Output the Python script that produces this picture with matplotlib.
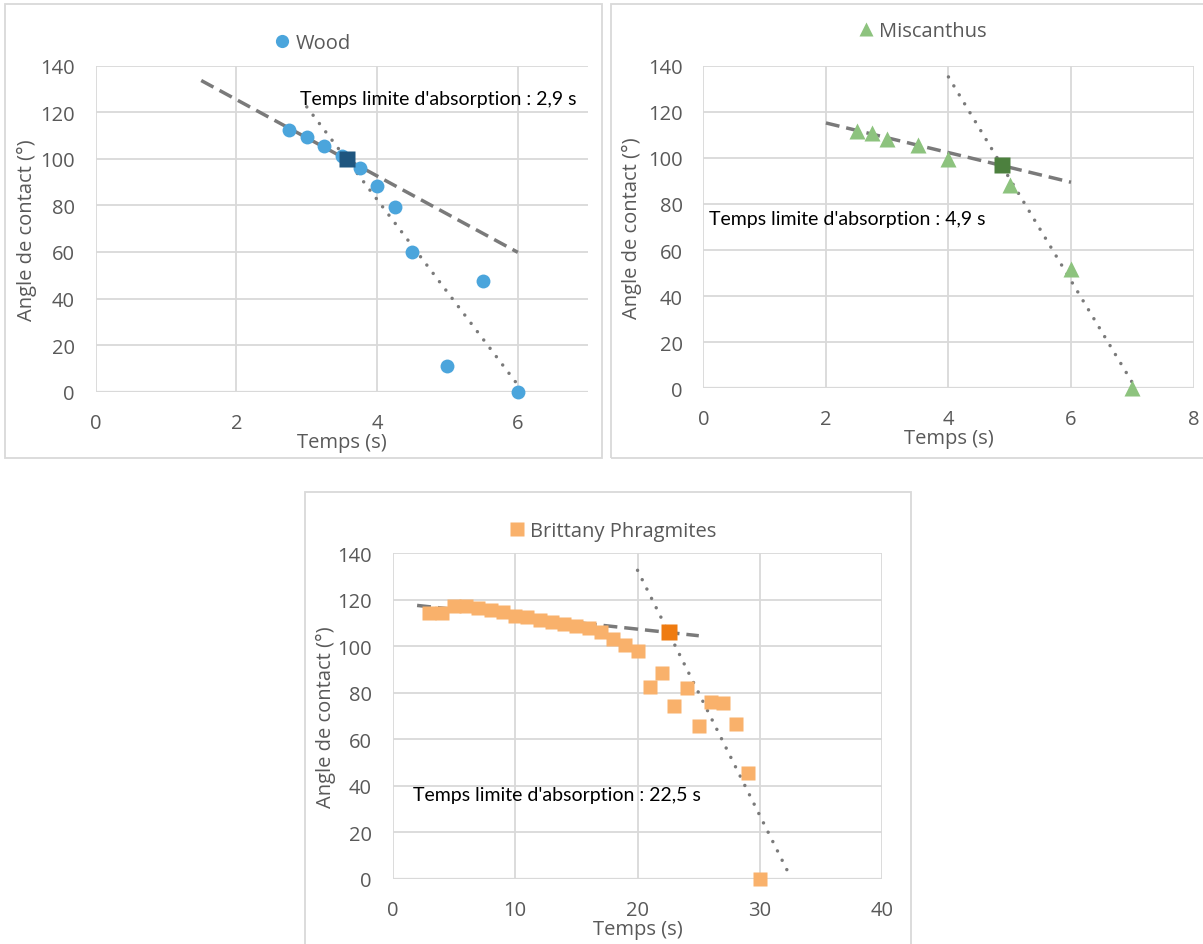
import numpy as np
import matplotlib.pyplot as plt
from matplotlib.lines import Line2D
from matplotlib.patches import Rectangle

# --- data ---
wood_t = [2.75, 3.0, 3.25, 3.5, 3.75, 4.0, 4.25, 4.5, 5.0, 5.5, 6.0]
wood_angle = [112.4, 109.5, 105.5, 101.3, 96.0, 88.3, 79.3, 59.8, 11.2, 47.5, 0.0]

misc_t = [2.5, 2.75, 3.0, 3.5, 4.0, 5.0, 6.0, 7.0]
misc_angle = [111.8, 111.0, 108.0, 105.7, 99.5, 88.4, 51.8, 0.0]

phrag_t = list(range(3, 31))
phrag_angle = [114.2, 114.4, 117.2, 117.2, 116.5, 115.8, 114.6, 113.2, 112.5,
               111.5, 110.3, 109.6, 108.9, 107.7, 106.0, 103.2, 100.6, 98.1,
               82.4, 88.4, 74.5, 81.9, 65.9, 75.9, 75.6, 66.6, 45.6, 0.0]

series_names = ["Wood", "Miscanthus", "Brittany Phragmites"]
notes = ["Temps limite d'absorption : 2,9 s",
         "Temps limite d'absorption : 4,9 s",
         "Temps limite d'absorption : 22,5 s"]

# points used for the two linear trendlines (first n / last n)
fit_first = [5, 4, 12]
fit_last = [6, 3, 7]
dash_span = [(1.5, 6.0), (2.0, 6.0), (2.0, 25.0)]
dot_span = [(3.0, 6.0), (4.0, 7.0), (20.0, 32.4)]

W, H = 1203, 945
GRAY = "#595959"
GRID = "#D9D9D9"
TREND = "#7A7A7A"

fig = plt.figure(figsize=(W / 100, H / 100), dpi=100)


def px(x0, y0, x1, y1):
    # pixel box (top-left origin) -> figure fraction rect
    return [x0 / W, 1 - y1 / H, (x1 - x0) / W, (y1 - y0) / H]


def panel(i, box, frame, t, a, xmax, xstep, color, marker, ms, dark,
          note_xy, leg_xy, ylab_x):
    fig.add_artist(Rectangle((frame[0] / W, 1 - frame[3] / H),
                             (frame[2] - frame[0]) / W, (frame[3] - frame[1]) / H,
                             transform=fig.transFigure, fill=False,
                             edgecolor=GRID, lw=1.3, zorder=0))
    ax = fig.add_axes(px(*box))
    t = np.array(t, dtype=float)
    a = np.array(a, dtype=float)

    # trendlines (linear fits, like the spreadsheet ones)
    p1 = np.polyfit(t[:fit_first[i]], a[:fit_first[i]], 1)
    p2 = np.polyfit(t[-fit_last[i]:], a[-fit_last[i]:], 1)
    xd = np.array(dash_span[i])
    xo = np.array(dot_span[i])
    ax.plot(xd, np.polyval(p1, xd), color=TREND, lw=2.5,
            linestyle=(0, (4, 2)), zorder=2)
    ax.plot(xo, np.polyval(p2, xo), color=TREND, lw=2.5,
            linestyle=(0, (0.01, 3.0)), dash_capstyle="round", zorder=2)

    ax.plot(t, a, linestyle="none", marker=marker, ms=ms, color=color,
            mec="none", zorder=3, clip_on=False)

    # crossing of the two trendlines
    xc = (p2[1] - p1[1]) / (p1[0] - p2[0])
    ax.plot([xc], [np.polyval(p1, xc)], linestyle="none", marker="s", ms=12,
            color=dark, mec="none", zorder=4)

    ax.text(note_xy[0], note_xy[1], notes[i], fontsize=14, color="black",
            family="Lato", va="center", ha="left", zorder=5)

    ax.set_xlim(0, xmax)
    ax.set_ylim(0, 140)
    ax.set_xticks(np.arange(0, xmax + 0.01, xstep))
    ax.set_yticks(np.arange(0, 141, 20))
    ax.grid(True, color=GRID, lw=1.3)
    ax.set_axisbelow(True)
    for s in ax.spines.values():
        s.set_visible(False)
    ax.axhline(0, color=GRID, lw=1.6, zorder=1)
    ax.tick_params(length=0, labelsize=14.5, labelcolor=GRAY)
    ax.tick_params(axis="x", pad=15)
    ax.tick_params(axis="y", pad=15)
    for lab in ax.get_xticklabels() + ax.get_yticklabels():
        lab.set_family("Open Sans")

    ax.set_xlabel("Temps (s)", fontsize=14.5, color=GRAY, family="Open Sans")
    ax.xaxis.set_label_coords(0.5, -0.155)
    ax.xaxis.label.set_va("center")
    ax.set_ylabel("Angle de contact (°)", fontsize=14.5, color=GRAY,
                  family="Open Sans")
    ax.yaxis.set_label_coords(ylab_x, 0.5)
    ax.yaxis.label.set_va("center")

    h = Line2D([], [], linestyle="none", marker=marker, ms=ms * 0.95,
               color=color, mec="none")
    fig.legend([h], [series_names[i]], loc="center",
               bbox_to_anchor=(leg_xy[0] / W, 1 - leg_xy[1] / H),
               frameon=False, handlelength=0.7, handletextpad=0.3,
               prop={"family": "Open Sans", "size": 14.5}, labelcolor=GRAY)
    return ax


panel(0, (95.7, 66.7, 588.2, 392.7), (5, 5, 602, 459),
      wood_t, wood_angle, 7, 2, "#4BA5DC", "o", 10, "#1F567F",
      (2.9, 125.7), (313, 44), -0.14)
panel(1, (703.4, 66.7, 1193.5, 389.3), (611, 5, 1210, 459),
      misc_t, misc_angle, 8, 2, "#8DC37E", "^", 11, "#4C803E",
      (0.09, 73.5), (923, 32), -0.146)
panel(2, (392.6, 554.3, 882.5, 880.0), (305, 493, 910.5, 960),
      phrag_t, phrag_angle, 40, 10, "#F9B16B", "s", 10.3, "#EF7B10",
      (1.65, 36.5), (613, 532), -0.137)

fig.savefig("out.png", dpi=100)
